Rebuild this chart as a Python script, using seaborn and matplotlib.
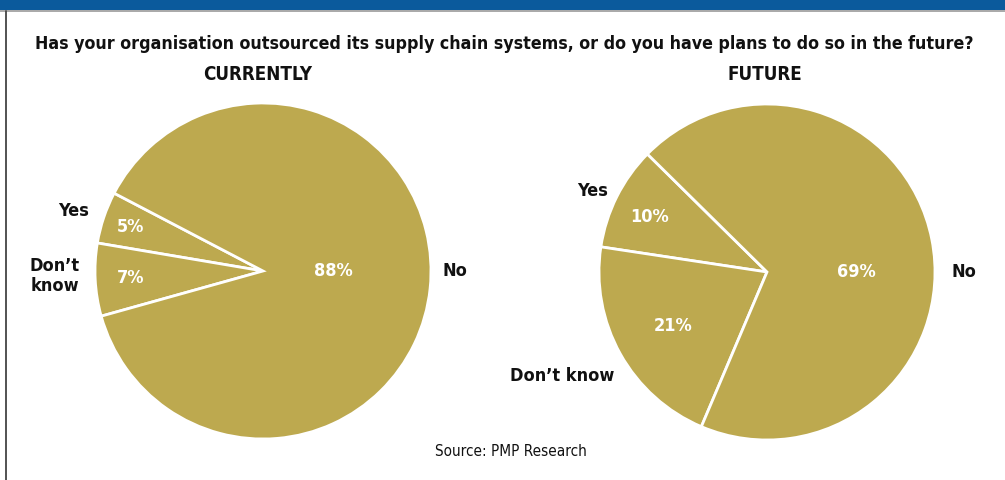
import matplotlib
matplotlib.use("Agg")
import matplotlib.pyplot as plt
import seaborn as sns
import numpy as np

# ---- data ----
categories = ["Yes", "Don\u2019t know", "No"]
current_values = [5, 7, 88]
future_values = [10, 21, 69]
current_labels = ["Yes", "Don\u2019t\nknow", "No"]
future_labels = ["Yes", "Don\u2019t know", "No"]
title = "Has your organisation outsourced its supply chain systems, or do you have plans to do so in the future?"
subtitles = ["CURRENTLY", "FUTURE"]
source = "Source: PMP Research"

# ---- style ----
sns.set_theme(style="white")
plt.rcParams["font.family"] = ["DejaVu Sans"]
plt.rcParams["font.stretch"] = "condensed"
PIE_COLOR = "#BDA94F"
BLUE = "#0B5A9C"

W, H = 1005, 480
fig = plt.figure(figsize=(W / 100, H / 100), dpi=100)
fig.patch.set_facecolor("white")

band = fig.add_axes([0, 1 - 10 / H, 1, 10 / H])
band.set_facecolor(BLUE)
band.set_xticks([]); band.set_yticks([])
for s in band.spines.values():
    s.set_visible(False)
fig.add_artist(plt.Line2D([0, 1], [1 - 11 / H, 1 - 11 / H], color="#9a9a9a", lw=1.2, transform=fig.transFigure))
fig.add_artist(plt.Line2D([5.5 / W, 5.5 / W], [0, 1 - 11 / H], color="#444444", lw=1.3, transform=fig.transFigure))

t = fig.text(504 / W, 1 - 44 / H, title, ha="center", va="center", fontsize=13.2, fontweight="bold", color="#111111")
# fit title width to ~940 px
renderer = fig.canvas.get_renderer()
w = t.get_window_extent(renderer).width
if w > 940:
    t.set_fontsize(13.2 * 940 / w)

def make_pie(cx, cy, r, values, labels, startangle, pct_pos, lab_pos, subtitle, sub_x):
    ax = fig.add_axes([(cx - r) / W, (H - cy - r) / H, 2 * r / W, 2 * r / H])
    ax.pie(values, colors=[PIE_COLOR] * len(values), startangle=startangle, counterclock=True,
           radius=1.0, wedgeprops=dict(edgecolor="white", linewidth=2.0))
    ax.set_xlim(-1, 1); ax.set_ylim(-1, 1)
    ax.set_aspect("auto")
    ax.axis("off")
    for v, (px, py) in zip(values, pct_pos):
        ax.text(px, py, f"{v}%", ha="center", va="center", color="white", fontsize=13, fontweight="bold", clip_on=False)
    for lab, (lx, ly) in zip(labels, lab_pos):
        ax.text(lx, ly, lab, ha="center", va="center", color="#111111", fontsize=13, fontweight="bold",
                clip_on=False, linespacing=1.2)
    fig.text(sub_x / W, 1 - 74 / H, subtitle, ha="center", va="center", fontsize=13.5, fontweight="bold", color="#111111")
    return ax

r = 168
make_pie(263, 271, r, current_values, current_labels, 152.4,
         pct_pos=[(-0.79, 0.26), (-0.79, -0.04), (0.42, 0.0)],
         lab_pos=[(-1.13, 0.36), (-1.24, -0.03), (1.14, 0.0)],
         subtitle=subtitles[0], sub_x=258)

make_pie(767, 272, r, future_values, future_labels, 135.4,
         pct_pos=[(-0.70, 0.33), (-0.56, -0.32), (0.53, 0.0)],
         lab_pos=[(-1.04, 0.48), (-1.22, -0.62), (1.17, 0.0)],
         subtitle=subtitles[1], sub_x=765)

fig.text(511 / W, 1 - 452 / H, source, ha="center", va="center", fontsize=11, color="#111111")

fig.savefig("out.png", dpi=100)
